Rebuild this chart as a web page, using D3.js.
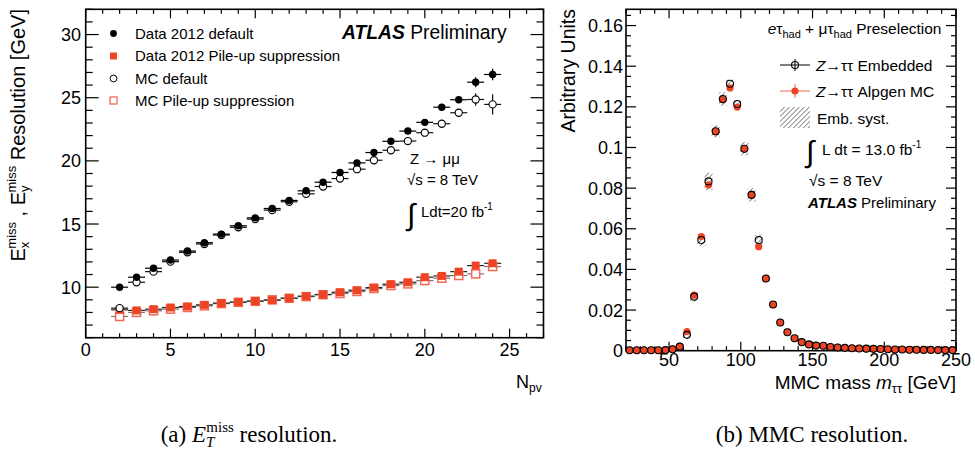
<!DOCTYPE html>
<html><head><meta charset="utf-8">
<script src="https://cdn.jsdelivr.net/npm/d3@7"></script>
<style>
html,body{margin:0;padding:0;background:#fff;}
svg text{font-family:"Liberation Sans",Arial,Helvetica,sans-serif;fill:#000;}
svg text.serif, svg text.serif tspan{font-family:"Liberation Serif","Times New Roman",serif;}
</style></head><body>
<svg id="c" width="975" height="449"></svg>
<script>
// ---------- Left panel data (MET resolution vs Npv) ----------
const npv = [2,3,4,5,6,7,8,9,10,11,12,13,14,15,16,17,18,19,20,21,22,23,24];
const dataDefault = [10.0,10.79,11.5,12.15,12.86,13.52,14.2,14.86,15.49,16.23,16.87,17.63,18.31,19.08,19.84,20.66,21.55,22.36,23.05,24.25,24.84,26.23,26.84];
const dataDefaultErr = [0.1,0.1,0.1,0.1,0.1,0.1,0.1,0.1,0.1,0.1,0.1,0.1,0.1,0.1,0.1,0.12,0.12,0.15,0.15,0.2,0.25,0.4,0.45];
const dataPU = [8.21,8.16,8.26,8.39,8.47,8.6,8.74,8.82,8.9,8.97,9.13,9.29,9.42,9.6,9.76,9.97,10.24,10.39,10.79,10.89,11.23,11.71,11.89];
const dataPUErr = [0.08,0.05,0.05,0.05,0.05,0.05,0.05,0.05,0.05,0.05,0.05,0.05,0.05,0.05,0.05,0.06,0.06,0.08,0.08,0.1,0.12,0.15,0.2];
const mcDefault = [8.34,10.39,11.23,12.02,12.76,13.42,14.13,14.74,15.39,16.1,16.76,17.39,17.97,18.6,19.34,20.05,20.84,21.57,22.23,22.94,23.81,24.86,24.47];
const mcDefaultErr = [0.1,0.1,0.1,0.1,0.1,0.1,0.1,0.1,0.1,0.1,0.1,0.1,0.1,0.1,0.12,0.12,0.15,0.15,0.2,0.2,0.3,0.5,0.8];
const mcPU = [7.68,8.0,8.13,8.26,8.39,8.52,8.7,8.8,8.88,9.0,9.12,9.25,9.4,9.5,9.66,9.89,10.13,10.26,10.52,10.71,10.92,11.05,11.63];
const mcPUErr = [0.1,0.06,0.05,0.05,0.05,0.05,0.05,0.05,0.05,0.05,0.05,0.05,0.05,0.05,0.05,0.06,0.06,0.08,0.1,0.12,0.15,0.2,0.3];
const leftXTicks = [0,5,10,15,20,25];
const leftYTicks = [10,15,20,25,30];

// ---------- Right panel data (MMC mass) ----------
const mmcBins = [22.5,27.5,32.5,37.5,42.5,47.5,52.5,57.5,62.5,67.5,72.5,77.5,82.5,87.5,92.5,97.5,102.5,107.5,112.5,117.5,122.5,127.5,132.5,137.5,142.5,147.5,152.5,157.5,162.5,167.5,172.5,177.5,182.5,187.5,192.5,197.5,202.5,207.5,212.5,217.5,222.5,227.5,232.5,237.5,242.5,247.5];
const embedded = [0.0002,0.0002,0.0002,0.0002,0.0002,0.0003,0.0007,0.0020,0.0078,0.0266,0.0545,0.0833,0.1080,0.1238,0.1314,0.1214,0.0994,0.0767,0.0545,0.0355,0.0227,0.0139,0.0091,0.0061,0.0042,0.0031,0.0025,0.0024,0.0018,0.0016,0.0014,0.0012,0.0011,0.0010,0.0009,0.0008,0.0007,0.0006,0.0006,0.0005,0.0005,0.0004,0.0004,0.0003,0.0003,0.0003];
const alpgen = [0.0002,0.0002,0.0002,0.0002,0.0002,0.0003,0.0008,0.0021,0.0094,0.0273,0.0562,0.0816,0.1078,0.1235,0.1293,0.1199,0.0992,0.0765,0.0512,0.0356,0.0227,0.0139,0.0091,0.0061,0.0042,0.0031,0.0025,0.0024,0.0018,0.0016,0.0014,0.0012,0.0011,0.0010,0.0009,0.0008,0.0007,0.0006,0.0006,0.0005,0.0005,0.0004,0.0004,0.0003,0.0003,0.0003];
const embSyst = [0.0002,0.0002,0.0002,0.0002,0.0002,0.0002,0.0004,0.0008,0.0015,0.0025,0.003,0.0043,0.003,0.0033,0.002,0.002,0.0033,0.0033,0.0025,0.001,0.0006,0.0004,0.0003,0.0003,0.0002,0.0002,0.0002,0.0002,0.0002,0.0002,0.0002,0.0002,0.0002,0.0002,0.0002,0.0002,0.0002,0.0002,0.0002,0.0002,0.0002,0.0002,0.0002,0.0002,0.0002,0.0002];
const rightXTicks = [50,100,150,200,250];
const rightYTicks = [0,0.02,0.04,0.06,0.08,0.1,0.12,0.14,0.16];
const rightYTickLabels = ["0","0.02","0.04","0.06","0.08","0.1","0.12","0.14","0.16"];

const RED = "#ee4426";
const svg = d3.select("#c");

// hatch pattern
const defs = svg.append("defs");
const pat = defs.append("pattern").attr("id","hatch").attr("patternUnits","userSpaceOnUse")
  .attr("width",3.5).attr("height",3.5).attr("patternTransform","rotate(45)");
pat.append("line").attr("x1",0).attr("y1",0).attr("x2",0).attr("y2",3.5).attr("stroke","#333").attr("stroke-width",1.1);

function frame(x, y, xMajor, xMinor, yMajor, yMinor, xl, yl){
  const [x0,x1] = x.range(), [y0,y1] = y.range();
  const g = svg.append("g");
  const lines = [];
  xMajor.forEach(v=>{lines.push([x(v),y0,x(v),y0-xl[0]]);lines.push([x(v),y1,x(v),y1+xl[0]]);});
  xMinor.forEach(v=>{lines.push([x(v),y0,x(v),y0-xl[1]]);lines.push([x(v),y1,x(v),y1+xl[1]]);});
  yMajor.forEach(v=>{lines.push([x0,y(v),x0+yl[0],y(v)]);lines.push([x1,y(v),x1-yl[0],y(v)]);});
  yMinor.forEach(v=>{lines.push([x0,y(v),x0+yl[1],y(v)]);lines.push([x1,y(v),x1-yl[1],y(v)]);});
  g.selectAll("line").data(lines).join("line")
    .attr("x1",d=>d[0]).attr("y1",d=>d[1]).attr("x2",d=>d[2]).attr("y2",d=>d[3])
    .attr("stroke","#000").attr("stroke-width",1.2);
  g.append("rect").attr("x",x0).attr("y",y1).attr("width",x1-x0).attr("height",y0-y1)
    .attr("fill","none").attr("stroke","#000").attr("stroke-width",1.6);
}

// ================= LEFT PANEL =================
const xL = d3.scaleLinear().domain([0,27]).range([85.7,543.5]);
const yL = d3.scaleLinear().domain([6,32]).range([337.7,9.3]);
frame(xL,yL,leftXTicks,d3.range(0,28,1).filter(v=>v%5),leftYTicks,d3.range(6,33,1).filter(v=>v%5),[9,4.5],[13,7]);

svg.append("g").selectAll("text").data(leftXTicks).join("text")
  .attr("x",d=>xL(d)).attr("y",356).attr("text-anchor","middle").attr("font-size",18).text(d=>d);
svg.append("g").selectAll("text").data(leftYTicks).join("text")
  .attr("x",81).attr("y",d=>yL(d)+6.5).attr("text-anchor","end").attr("font-size",18).text(d=>d);

function errBars(xs, ys, es, color, halfw){
  const gg = svg.append("g");
  gg.selectAll("line.h").data(xs).join("line").attr("class","h")
    .attr("x1",d=>xL(d-halfw)).attr("x2",d=>xL(d+halfw))
    .attr("y1",(d,i)=>yL(ys[i])).attr("y2",(d,i)=>yL(ys[i])).attr("stroke",color).attr("stroke-width",1.2);
  gg.selectAll("line.v").data(xs).join("line").attr("class","v")
    .attr("x1",d=>xL(d)).attr("x2",d=>xL(d))
    .attr("y1",(d,i)=>yL(ys[i]-es[i])).attr("y2",(d,i)=>yL(ys[i]+es[i])).attr("stroke",color).attr("stroke-width",1.2);
}
errBars(npv,mcPU,mcPUErr,"#777",0.5);
errBars(npv,dataPU,dataPUErr,"#222",0.5);
errBars(npv,mcDefault,mcDefaultErr,"#111",0.5);
errBars(npv,dataDefault,dataDefaultErr,"#000",0.5);

const sq = 8;
svg.append("g").selectAll("rect").data(npv).join("rect")
  .attr("x",d=>xL(d)-sq/2).attr("y",(d,i)=>yL(mcPU[i])-sq/2).attr("width",sq).attr("height",sq)
  .attr("fill","#fff").attr("stroke","#f26a55").attr("stroke-width",1.5);
svg.append("g").selectAll("rect").data(npv).join("rect")
  .attr("x",d=>xL(d)-sq/2).attr("y",(d,i)=>yL(dataPU[i])-sq/2).attr("width",sq).attr("height",sq)
  .attr("fill",RED);
svg.append("g").selectAll("circle").data(npv).join("circle")
  .attr("cx",d=>xL(d)).attr("cy",(d,i)=>yL(mcDefault[i])).attr("r",3.6)
  .attr("fill","#fff").attr("stroke","#000").attr("stroke-width",1.1);
svg.append("g").selectAll("circle").data(npv).join("circle")
  .attr("cx",d=>xL(d)).attr("cy",(d,i)=>yL(dataDefault[i])).attr("r",3.7).attr("fill","#000");

// left legend
const legL = svg.append("g").attr("font-size",15);
legL.append("circle").attr("cx",113.5).attr("cy",33.5).attr("r",3.4).attr("fill","#000");
legL.append("rect").attr("x",110).attr("y",52.5).attr("width",7).attr("height",7).attr("fill",RED);
legL.append("circle").attr("cx",113.5).attr("cy",78.5).attr("r",3.4).attr("fill","#fff").attr("stroke","#000").attr("stroke-width",1);
legL.append("rect").attr("x",110).attr("y",97).attr("width",7).attr("height",7).attr("fill","#fff").attr("stroke","#f26a55").attr("stroke-width",1.3);
legL.append("text").attr("x",135).attr("y",38.5).text("Data 2012 default");
legL.append("text").attr("x",135).attr("y",61).text("Data 2012 Pile-up suppression");
legL.append("text").attr("x",135).attr("y",83.5).text("MC default");
legL.append("text").attr("x",135).attr("y",105.5).text("MC Pile-up suppression");

const atl = svg.append("text").attr("x",342).attr("y",38.5).attr("font-size",19.3);
atl.append("tspan").attr("font-weight","bold").attr("font-style","italic").text("ATLAS");
atl.append("tspan").text(" Preliminary");

svg.append("text").attr("x",410).attr("y",164).attr("font-size",15).text("Z \u2192 \u03bc\u03bc");
svg.append("text").attr("x",407).attr("y",185).attr("font-size",15).text("\u221as = 8 TeV");
svg.append("text").attr("x",407).attr("y",225).attr("font-size",30).text("\u222b");
const lum = svg.append("text").attr("x",421).attr("y",217).attr("font-size",15);
lum.append("tspan").text("Ldt=20 fb");
lum.append("tspan").attr("font-size",10).attr("dy",-7).text("-1");

// left y title
const yt = svg.append("text").attr("transform","translate(25,9) rotate(-90)").attr("text-anchor","end").attr("font-size",20);
yt.append("tspan").text("E");
yt.append("tspan").attr("font-size",13).attr("dy",4).text("x");
yt.append("tspan").attr("font-size",13).attr("dx",-7).attr("dy",-13).text("miss");
yt.append("tspan").attr("dy",9).text(" , ");
yt.append("tspan").text("E");
yt.append("tspan").attr("font-size",13).attr("dy",4).text("y");
yt.append("tspan").attr("font-size",13).attr("dx",-7).attr("dy",-13).text("miss");
yt.append("tspan").attr("dy",9).text("  Resolution [GeV]");

// Npv
const np = svg.append("text").attr("x",516).attr("y",388).attr("font-size",18);
np.append("tspan").text("N");
np.append("tspan").attr("font-size",12).attr("dy",4).text("pv");

// caption a
const ca = svg.append("text").attr("class","serif").attr("x",249).attr("y",442).attr("text-anchor","middle").attr("font-size",23);
ca.append("tspan").text("(a) ");
ca.append("tspan").attr("font-style","italic").text("E");
ca.append("tspan").attr("font-style","italic").attr("font-size",15).attr("dy",5).text("T");
ca.append("tspan").attr("font-size",15).attr("dx",-8).attr("dy",-15).text("miss");
ca.append("tspan").attr("dy",10).text(" resolution.");

// ================= RIGHT PANEL =================
const xR = d3.scaleLinear().domain([20,250]).range([626,956]);
const yR = d3.scaleLinear().domain([0,0.168]).range([350.7,9.3]);
frame(xR,yR,rightXTicks,d3.range(20,251,10).filter(v=>v%50),rightYTicks,d3.range(0,0.1681,0.005).filter((v,i)=>i%4),[9,4.5],[10,5]);

svg.append("g").selectAll("text").data(rightXTicks).join("text")
  .attr("x",d=>xR(d)).attr("y",366).attr("text-anchor","middle").attr("font-size",18).text(d=>d);
svg.append("g").selectAll("text").data(rightYTicks).join("text")
  .attr("x",623).attr("y",d=>yR(d)+6.5).attr("text-anchor","end").attr("font-size",18).text((d,i)=>rightYTickLabels[i]);

// syst hatch
svg.append("g").selectAll("rect").data(mmcBins).join("rect")
  .attr("x",d=>xR(d-2.8)).attr("width",d=>xR(d+2.8)-xR(d-2.8))
  .attr("y",(d,i)=>yR(embedded[i]+embSyst[i])).attr("height",(d,i)=>yR(embedded[i]-embSyst[i])-yR(embedded[i]+embSyst[i]))
  .attr("fill","url(#hatch)");
svg.append("g").selectAll("circle").data(mmcBins).join("circle")
  .attr("cx",d=>xR(d)).attr("cy",(d,i)=>yR(alpgen[i])).attr("r",3.6).attr("fill",RED);
svg.append("g").selectAll("circle").data(mmcBins).join("circle")
  .attr("cx",d=>xR(d)).attr("cy",(d,i)=>yR(embedded[i])).attr("r",3.5)
  .attr("fill","none").attr("stroke","#000").attr("stroke-width",1.1);

// right y title
svg.append("text").attr("transform","translate(575,9) rotate(-90)").attr("text-anchor","end").attr("font-size",19.5).text("Arbitrary Units");
// right x title
const xt = svg.append("text").attr("x",956).attr("y",389).attr("text-anchor","end").attr("font-size",19);
xt.append("tspan").text("MMC mass ");
xt.append("tspan").attr("font-style","italic").text("m");
xt.append("tspan").attr("font-size",13).attr("dy",4).text("\u03c4\u03c4");
xt.append("tspan").attr("dy",-4).text(" [GeV]");

// right annotations
const pre = svg.append("text").attr("x",941.5).attr("y",34).attr("text-anchor","end").attr("font-size",15.5);
pre.append("tspan").attr("font-style","italic").text("e");
pre.append("tspan").text("\u03c4");
pre.append("tspan").attr("font-size",11).attr("dy",4).text("had");
pre.append("tspan").attr("dy",-4).text(" + \u03bc\u03c4");
pre.append("tspan").attr("font-size",11).attr("dy",4).text("had");
pre.append("tspan").attr("dy",-4).text(" Preselection");

const lg = svg.append("g");
// row 1
lg.append("line").attr("x1",780).attr("x2",810).attr("y1",65).attr("y2",65).attr("stroke","#000").attr("stroke-width",1);
lg.append("line").attr("x1",795).attr("x2",795).attr("y1",59).attr("y2",71).attr("stroke","#000").attr("stroke-width",1);
lg.append("circle").attr("cx",795).attr("cy",65).attr("r",3.5).attr("fill","none").attr("stroke","#000").attr("stroke-width",1.1);
const t1 = lg.append("text").attr("x",816).attr("y",70.5).attr("font-size",15.5);
t1.append("tspan").attr("font-style","italic").text("Z");
t1.append("tspan").text("\u2192\u03c4\u03c4 Embedded");
// row 2
lg.append("line").attr("x1",780).attr("x2",810).attr("y1",91).attr("y2",91).attr("stroke","#f58a78").attr("stroke-width",1.3);
lg.append("line").attr("x1",795).attr("x2",795).attr("y1",84).attr("y2",98).attr("stroke","#f58a78").attr("stroke-width",1.3);
lg.append("circle").attr("cx",795).attr("cy",91).attr("r",3.6).attr("fill",RED);
const t2 = lg.append("text").attr("x",816).attr("y",96.5).attr("font-size",15.5);
t2.append("tspan").attr("font-style","italic").text("Z");
t2.append("tspan").text("\u2192\u03c4\u03c4 Alpgen MC");
// row 3
lg.append("rect").attr("x",780).attr("y",107).attr("width",30).attr("height",21).attr("fill","url(#hatch)");
lg.append("text").attr("x",817).attr("y",124).attr("font-size",15.5).text("Emb. syst.");
// row 4
lg.append("text").attr("x",806).attr("y",162).attr("font-size",30).text("\u222b");
const t4 = lg.append("text").attr("x",822).attr("y",155).attr("font-size",15.5);
t4.append("tspan").text("L dt = 13.0 fb");
t4.append("tspan").attr("font-size",10).attr("dy",-7).text("-1");
// row 5
lg.append("text").attr("x",809).attr("y",185.5).attr("font-size",15.5).text("\u221as = 8 TeV");
// row 6
const t6 = lg.append("text").attr("x",808).attr("y",208).attr("font-size",15);
t6.append("tspan").attr("font-weight","bold").attr("font-style","italic").text("ATLAS");
t6.append("tspan").text("  Preliminary");

// caption b
svg.append("text").attr("class","serif").attr("x",812).attr("y",442).attr("text-anchor","middle").attr("font-size",23).text("(b) MMC resolution.");
</script>
</body></html>
